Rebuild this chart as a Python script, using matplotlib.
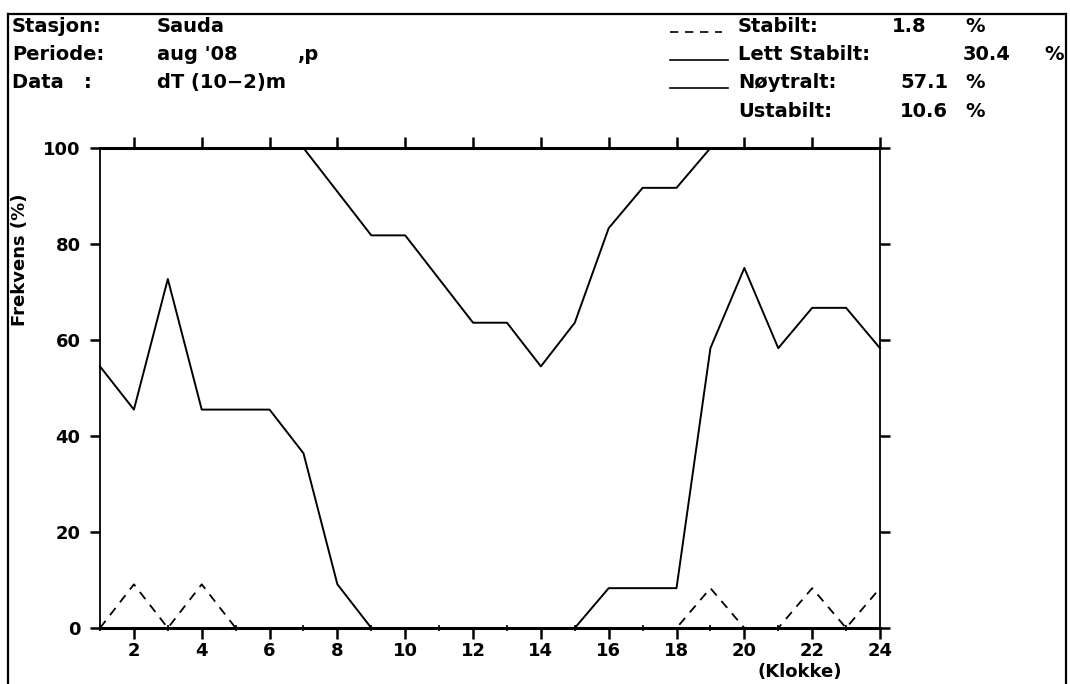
import matplotlib
matplotlib.use("Agg")
import matplotlib.pyplot as plt
from matplotlib.lines import Line2D
from matplotlib.ticker import MultipleLocator

# Hourly stability frequencies, Sauda, August 2008 (cumulative curves, %)
hours = list(range(1, 25))
stabilt = [0, 9.1, 0, 9.1, 0, 0, 0, 0, 0, 0, 0, 0,
           0, 0, 0, 0, 0, 0, 8.3, 0, 0, 8.3, 0, 8.3]
lett_stabilt = [54.5, 45.5, 72.7, 45.5, 45.5, 45.5, 36.4, 9.1, 0, 0, 0, 0,
                0, 0, 0, 8.3, 8.3, 8.3, 58.3, 75.0, 58.3, 66.7, 66.7, 58.3]
noytralt = [100, 100, 100, 100, 100, 100, 100, 90.9, 81.8, 81.8, 72.7, 63.6,
            63.6, 54.5, 63.6, 83.3, 91.7, 91.7, 100, 100, 100, 100, 100, 100]

header_left = [("Stasjon:", "Sauda", ""),
               ("Periode:", "aug '08", ",p"),
               ("Data   :", "dT (10\u22122)m", "")]
legend_rows = [("Stabilt:", "1.8", "dashed"),
               ("Lett Stabilt:", "30.4", "solid"),
               ("Nøytralt:", "57.1", "solid"),
               ("Ustabilt:", "10.6", None)]
x_ticks = list(range(2, 25, 2))
y_ticks = [0, 20, 40, 60, 80, 100]

W, H = 1070, 684
plt.rcParams["font.family"] = ["DejaVu Sans"]
plt.rcParams["font.weight"] = "bold"
fig = plt.figure(figsize=(W / 100, H / 100), dpi=100)


def fx(px):
    return px / W


def fy(py):
    return 1 - py / H


ax = fig.add_axes([fx(100), fy(628), fx(880) - fx(100), fy(148) - fy(628)])

ax.plot(hours, stabilt, color="black", lw=1.3, ls=(0, (5, 4)), clip_on=False, zorder=3)
ax.plot(hours, lett_stabilt, color="black", lw=1.4, clip_on=False, zorder=3)
ax.plot(hours, noytralt, color="black", lw=1.4, clip_on=False, zorder=3)

ax.set_xlim(1, 24)
ax.set_ylim(0, 100)

for side in ("top", "bottom"):
    ax.spines[side].set_linewidth(2.2)
for side in ("left", "right"):
    ax.spines[side].set_linewidth(1.3)

ax.xaxis.set_major_locator(MultipleLocator(2))
ax.xaxis.set_minor_locator(MultipleLocator(1))
ax.set_xticks(x_ticks)
ax.set_yticks(y_ticks)
ax.tick_params(axis="x", which="major", direction="out", length=8, width=1.8,
               top=True, labeltop=False, pad=2, labelsize=13)
ax.tick_params(axis="x", which="minor", direction="inout", length=5, width=1.2,
               top=False)
ax.tick_params(axis="y", which="major", direction="out", length=7, width=1.8,
               right=True, labelright=False, pad=7, labelsize=13)
for lab in ax.get_xticklabels() + ax.get_yticklabels():
    lab.set_fontweight("bold")

# Axis titles
fig.text(fx(20), fy(260), "Frekvens (%)", fontsize=13, fontweight="bold",
         rotation=90, ha="center", va="center")
fig.text(fx(800), fy(672), "(Klokke)", fontsize=13, fontweight="bold",
         ha="center", va="center")

# Page frame
frame_kw = dict(color="black", lw=1.6, transform=fig.transFigure)
fig.add_artist(Line2D([fx(8), fx(1066)], [fy(14), fy(14)], **frame_kw))
fig.add_artist(Line2D([fx(8), fx(8)], [fy(14), fy(684)], **frame_kw))
fig.add_artist(Line2D([fx(1066), fx(1066)], [fy(14), fy(684)], **frame_kw))

# Header block
baselines = [32, 60, 88, 117]
hdr_kw = dict(fontsize=14, fontweight="bold", va="baseline", ha="left")
for (label, value, extra), base in zip(header_left, baselines):
    fig.text(fx(12), fy(base), label, **hdr_kw)
    fig.text(fx(157), fy(base), value, **hdr_kw)
    if extra:
        fig.text(fx(298), fy(base), extra, **hdr_kw)

value_x = {"Stabilt:": 892, "Lett Stabilt:": 963, "Nøytralt:": 900, "Ustabilt:": 900}
pct_x = {"Stabilt:": 965, "Lett Stabilt:": 1044, "Nøytralt:": 965, "Ustabilt:": 965}
for (label, value, style), base in zip(legend_rows, baselines):
    if style == "dashed":
        fig.add_artist(Line2D([fx(670), fx(722)], [fy(base), fy(base)], color="black",
                              lw=1.2, ls=(0, (5, 4)), transform=fig.transFigure))
    elif style == "solid":
        fig.add_artist(Line2D([fx(670), fx(728)], [fy(base), fy(base)], color="black",
                              lw=1.2, transform=fig.transFigure))
    fig.text(fx(738), fy(base), label, **hdr_kw)
    fig.text(fx(value_x[label]), fy(base), value, **hdr_kw)
    fig.text(fx(pct_x[label]), fy(base), "%", **hdr_kw)

fig.savefig("out.png", dpi=100)
